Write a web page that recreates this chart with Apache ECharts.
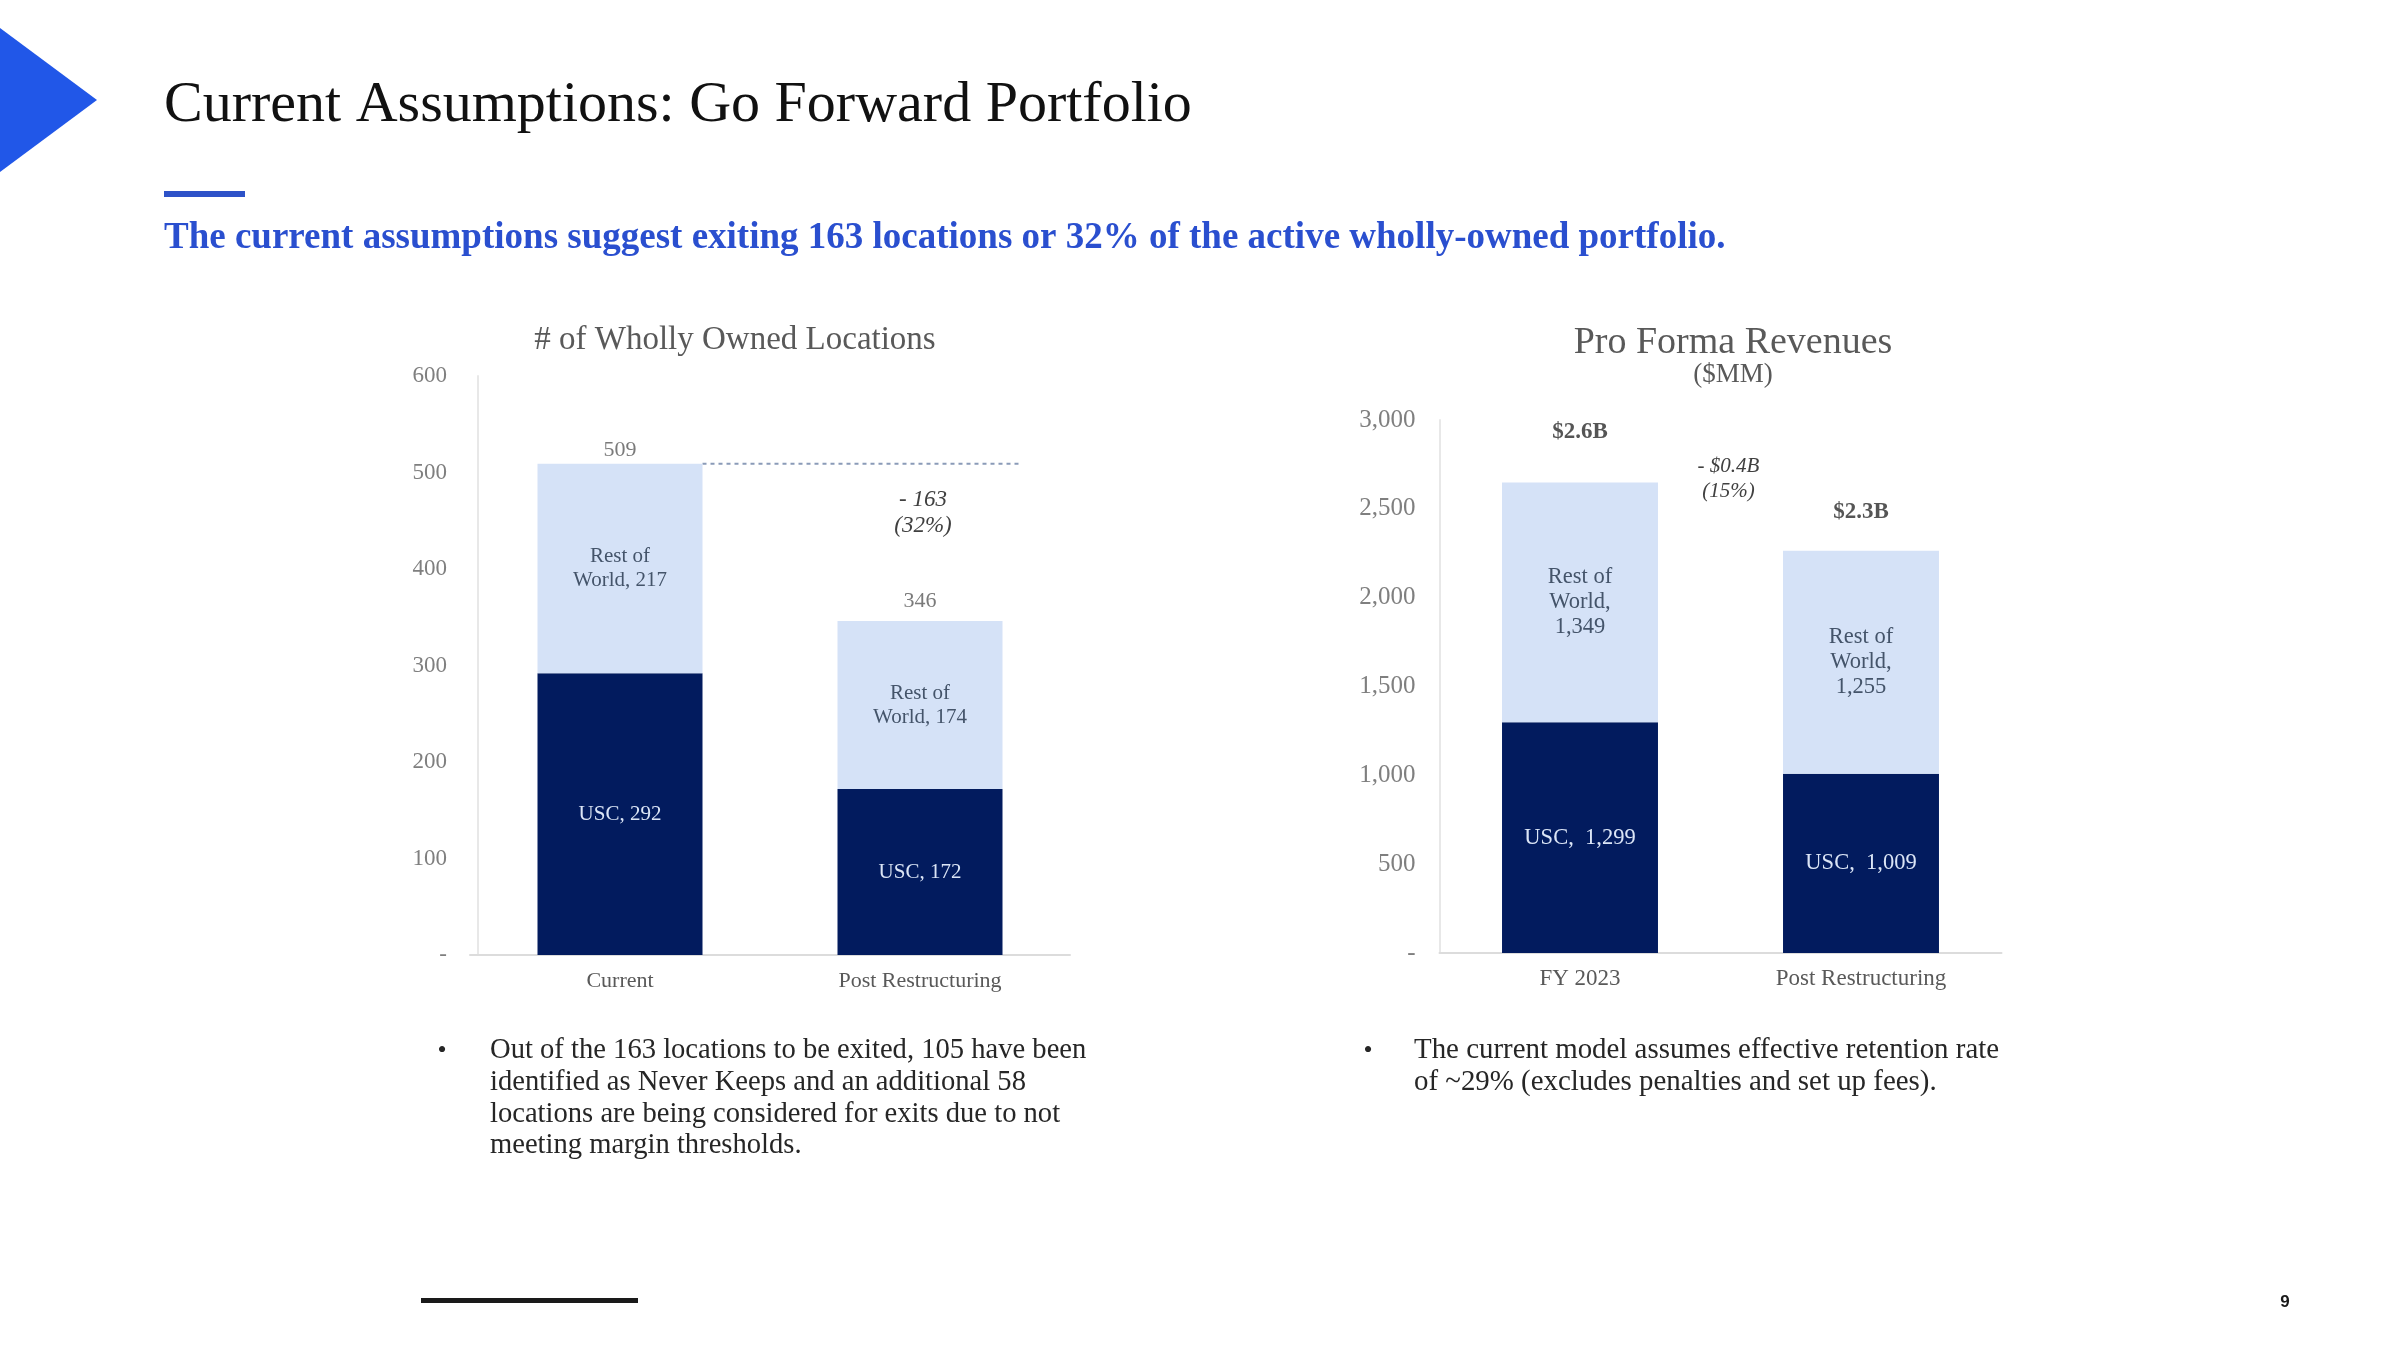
<!DOCTYPE html>
<html><head><meta charset="utf-8">
<script src="https://cdn.jsdelivr.net/npm/echarts@6/dist/echarts.min.js"></script>
<style>html,body{margin:0;padding:0;background:#fff}#c{width:2400px;height:1350px}</style>
</head><body><div id="c"></div>
<script>
// ---------- data ----------
const locCategories = ['Current', 'Post Restructuring'];
const locUSC = [292, 172];
const locROW = [217, 174];
const locTotals = [509, 346];
const locYTicks = ['-', '100', '200', '300', '400', '500', '600'];
const locChange = ['- 163', '(32%)'];

const revCategories = ['FY 2023', 'Post Restructuring'];
const revUSC = [1299, 1009];
const revROW = [1349, 1255];
const revTotals = [2648, 2264];
const revTotalLabels = ['$2.6B', '$2.3B'];
const revYTicks = ['-', '500', '1,000', '1,500', '2,000', '2,500', '3,000'];
const revChange = ['- $0.4B', '(15%)'];

const titleText = 'Current Assumptions: Go Forward Portfolio';
const subtitleText = 'The current assumptions suggest exiting 163 locations or 32% of the active wholly-owned portfolio.';
const leftChartTitle = '# of Wholly Owned Locations';
const rightChartTitle = 'Pro Forma Revenues';
const rightChartUnit = '($MM)';
const leftBullet = ['Out of the 163 locations to be exited, 105 have been',
  'identified as Never Keeps and an additional 58',
  'locations are being considered for exits due to not',
  'meeting margin thresholds.'];
const rightBullet = ['The current model assumes effective retention rate',
  'of ~29% (excludes penalties and set up fees).'];
const pageNumber = '9';

// ---------- style ----------
const SERIF = '"Liberation Serif", "DejaVu Serif", serif';
const DARK = '#021b5e';
const LIGHT = '#d5e2f7';
const AXIS = '#dcdcdc';

const chart = echarts.init(document.getElementById('c'), null, {renderer: 'canvas'});

function yAxisLabels(ticks, step) {
  return v => ticks[Math.round(v / step)] || '';
}

const option = {
  animation: false,
  backgroundColor: '#ffffff',
  textStyle: {fontFamily: SERIF},
  grid: [
    {left: 470, width: 600, top: 376, height: 579},
    {left: 1439.5, width: 562, top: 420, height: 533}
  ],
  xAxis: [
    {type: 'category', gridIndex: 0, data: locCategories,
     axisLine: {lineStyle: {color: AXIS, width: 2}}, axisTick: {show: false},
     axisLabel: {fontFamily: SERIF, fontSize: 22, color: '#595959', margin: 15}},
    {type: 'category', gridIndex: 1, data: revCategories,
     axisLine: {lineStyle: {color: AXIS, width: 2}}, axisTick: {show: false},
     axisLabel: {fontFamily: SERIF, fontSize: 23, color: '#595959', margin: 14}}
  ],
  yAxis: [
    {type: 'value', gridIndex: 0, min: 0, max: 600, interval: 100, offset: -8,
     axisLine: {show: true, lineStyle: {color: '#e8e8e8', width: 2}}, axisTick: {show: false},
     splitLine: {show: false},
     axisLabel: {fontFamily: SERIF, fontSize: 23, color: '#7f7f7f', margin: 31,
                 formatter: yAxisLabels(locYTicks, 100)}},
    {type: 'value', gridIndex: 1, min: 0, max: 3000, interval: 500,
     axisLine: {show: true, lineStyle: {color: '#e8e8e8', width: 2}}, axisTick: {show: false},
     splitLine: {show: false},
     axisLabel: {fontFamily: SERIF, fontSize: 25, color: '#7f7f7f', margin: 24,
                 formatter: yAxisLabels(revYTicks, 500)}}
  ],
  series: [
    {type: 'bar', name: 'USC', xAxisIndex: 0, yAxisIndex: 0, stack: 'loc', data: locUSC,
     barWidth: '55%', itemStyle: {color: DARK}, silent: true,
     label: {show: true, position: 'inside', fontFamily: SERIF, fontSize: 21, color: '#dbe5f6',
             formatter: p => 'USC, ' + p.value}},
    {type: 'bar', name: 'Rest of World', xAxisIndex: 0, yAxisIndex: 0, stack: 'loc', data: locROW,
     barWidth: '55%', itemStyle: {color: LIGHT}, silent: true,
     label: {show: true, position: 'inside', fontFamily: SERIF, fontSize: 21, lineHeight: 24, color: '#44546a',
             formatter: p => 'Rest of\nWorld, ' + p.value}},
    {type: 'scatter', xAxisIndex: 0, yAxisIndex: 0, symbolSize: 1, silent: true,
     itemStyle: {color: 'rgba(0,0,0,0)'},
     data: locTotals.map((v, i) => ({value: v, label: {distance: i === 0 ? 2 : 8}})),
     label: {show: true, position: 'top', fontFamily: SERIF, fontSize: 22, color: '#595959',
             formatter: p => String(p.value)}},
    {type: 'bar', name: 'USC', xAxisIndex: 1, yAxisIndex: 1, stack: 'rev', data: revUSC,
     barWidth: '55.5%', itemStyle: {color: DARK}, silent: true,
     label: {show: true, position: 'inside', fontFamily: SERIF, fontSize: 22.5, color: '#dbe5f6',
             formatter: p => 'USC,  ' + p.value.toLocaleString('en-US')}},
    {type: 'bar', name: 'Rest of World', xAxisIndex: 1, yAxisIndex: 1, stack: 'rev', data: revROW,
     barWidth: '55.5%', itemStyle: {color: LIGHT}, silent: true,
     label: {show: true, position: 'inside', fontFamily: SERIF, fontSize: 22.5, lineHeight: 25, color: '#44546a',
             formatter: p => 'Rest of\nWorld,\n' + p.value.toLocaleString('en-US')}},
    {type: 'scatter', xAxisIndex: 1, yAxisIndex: 1, symbolSize: 1, silent: true,
     itemStyle: {color: 'rgba(0,0,0,0)'},
     data: revTotals.map((v, i) => ({value: v, label: {distance: i === 0 ? 38 : 27}})),
     label: {show: true, position: 'top', fontFamily: SERIF, fontSize: 23, fontWeight: 'bold', color: '#2b2b2b',
             formatter: p => revTotalLabels[p.dataIndex]}}
  ]
};
chart.setOption(option);

// positions derived from the chart's own scales
const pTop0 = chart.convertToPixel({gridIndex: 0}, [0, locTotals[0]]);
const pCat1 = chart.convertToPixel({gridIndex: 0}, [1, locTotals[1]]);
const band0 = 600 / locCategories.length;
const barHalf0 = band0 * 0.55 / 2;
const rA = chart.convertToPixel({gridIndex: 1}, [0, revTotals[0]]);
const rB = chart.convertToPixel({gridIndex: 1}, [1, revTotals[1]]);

function txt(text, x, y, size, opts) {
  opts = opts || {};
  return {type: 'text', silent: true, x: x, y: y,
    style: {text: text, fontFamily: opts.family || SERIF, fontSize: size,
      fontWeight: opts.weight || 'normal', fontStyle: opts.style || 'normal',
      fill: opts.color || '#262626', align: opts.align || 'left', verticalAlign: opts.valign || 'middle',
      textAlign: opts.align || 'left', textVerticalAlign: opts.valign || 'middle',
      lineHeight: opts.lineHeight}};
}

chart.setOption({
  graphic: [
    {type: 'polygon', silent: true, shape: {points: [[0, 28], [97, 100], [0, 172]]}, style: {fill: '#2157e8'}},
    txt(titleText, 164, 106, 58, {color: '#111111'}),
    {type: 'rect', silent: true, shape: {x: 164, y: 191, width: 81, height: 6}, style: {fill: '#2d52c8'}},
    txt(subtitleText, 164, 238, 37, {color: '#2a4fcf', weight: 'bold'}),
    txt(leftChartTitle, 735, 340, 33, {color: '#595959', align: 'center'}),
    txt(rightChartTitle, 1733, 343, 38, {color: '#595959', align: 'center'}),
    txt(rightChartUnit, 1733, 375, 27, {color: '#595959', align: 'center'}),
    {type: 'line', silent: true,
     shape: {x1: pTop0[0] + barHalf0, y1: pTop0[1], x2: pCat1[0] + barHalf0 + 19, y2: pTop0[1]},
     style: {stroke: '#8a9bb8', lineWidth: 2, lineDash: [4, 4]}},
    txt(locChange.join('\n'), pCat1[0] + 3, 513, 23, {color: '#404040', style: 'italic', align: 'center', lineHeight: 26}),
    txt(revChange.join('\n'), (rA[0] + rB[0]) / 2 + 8, 479, 21, {color: '#404040', style: 'italic', align: 'center', lineHeight: 25}),
    txt('\u2022', 442, 1051, 26, {color: '#262626', align: 'center'}),
    txt(leftBullet.join('\n'), 490, 1035, 28.6, {color: '#262626', valign: 'top', lineHeight: 31.7}),
    txt('\u2022', 1368, 1051, 26, {color: '#262626', align: 'center'}),
    txt(rightBullet.join('\n'), 1414, 1035, 28.9, {color: '#262626', valign: 'top', lineHeight: 31.7}),
    {type: 'rect', silent: true, shape: {x: 421, y: 1298, width: 217, height: 5}, style: {fill: '#1a1a1a'}},
    txt(pageNumber, 2285, 1302, 17, {family: '"Liberation Sans", Arial, sans-serif', weight: 'bold', color: '#1a1a1a', align: 'center'})
  ]
});
</script></body></html>
